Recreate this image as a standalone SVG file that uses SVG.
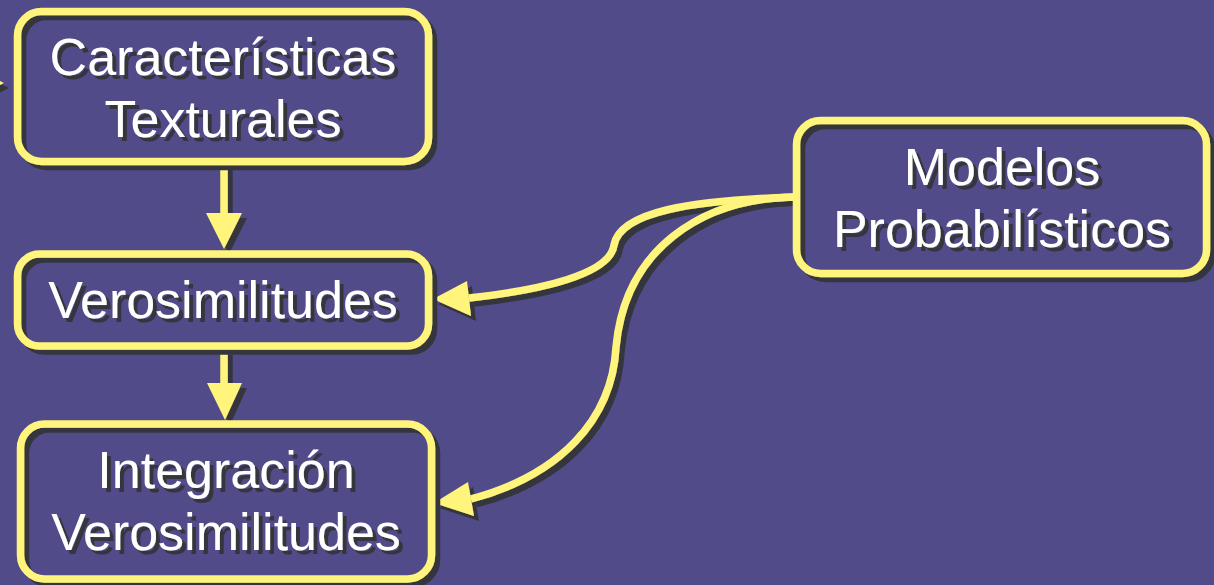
<svg xmlns="http://www.w3.org/2000/svg" width="1214" height="585" viewBox="0 0 1214 585">
  <style>
    .box { fill: none; stroke: #FFF57C; stroke-width: 7.5; }
    .lbl { fill: #FFFFFF; font-family: "Liberation Sans", Arial, sans-serif; font-size: 52px; text-anchor: middle; }
    .edge { fill: none; stroke: #FFF57C; stroke-width: 7.5; }
    .head { fill: #FFF57C; stroke: none; }
  </style>
  <defs>
    <filter id="sh" filterUnits="userSpaceOnUse" x="0" y="0" width="1214" height="585">
      <feOffset in="SourceAlpha" dx="5" dy="5" result="o"/>
      <feFlood flood-color="#36353E"/>
      <feComposite in2="o" operator="in" result="s"/>
      <feMerge><feMergeNode in="s"/><feMergeNode in="SourceGraphic"/></feMerge>
    </filter>
    <filter id="tsh" filterUnits="userSpaceOnUse" x="0" y="0" width="1214" height="585">
      <feOffset in="SourceAlpha" dx="3.5" dy="3.5" result="o"/>
      <feFlood flood-color="#36353E"/>
      <feComposite in2="o" operator="in" result="s"/>
      <feMerge><feMergeNode in="s"/><feMergeNode in="SourceGraphic"/></feMerge>
    </filter>
  </defs>
  <rect width="1214" height="585" fill="#524B8A"/>

  <g id="connectors" filter="url(#sh)">
    <polygon class="head" points="4,83 -33,65 -33,101"/>
    <line class="edge" x1="224" y1="165" x2="224" y2="214"/>
    <polygon class="head" points="206,213 242,213 224,249"/>
    <line class="edge" x1="224" y1="350" x2="224" y2="384"/>
    <polygon class="head" points="207,383 242,383 225,420"/>
    <path class="edge" d="M796,197 C690,200 620,212 614,245 C610,275 540,290 469,298"/>
    <polygon class="head" points="433,299 467,281 471,316"/>
    <path class="edge" d="M796,197 C700,198 625,250 616,347 C612,420 560,475 471,499"/>
    <polygon class="head" points="434,503 468,482 474,516"/>
  </g>

  <g id="caracteristicas">
    <rect class="box" x="17.5" y="11.5" width="411" height="150" rx="24" filter="url(#sh)"/>
    <g filter="url(#tsh)">
      <text class="lbl" x="223" y="75">Características</text>
      <text class="lbl" x="223" y="137">Texturales</text>
    </g>
  </g>

  <g id="verosimilitudes">
    <rect class="box" x="17.5" y="254" width="411" height="92" rx="22" filter="url(#sh)"/>
    <text class="lbl" x="223" y="318" filter="url(#tsh)">Verosimilitudes</text>
  </g>

  <g id="integracion">
    <rect class="box" x="20.5" y="424" width="411" height="155" rx="24" filter="url(#sh)"/>
    <g filter="url(#tsh)">
      <text class="lbl" x="226" y="488">Integración</text>
      <text class="lbl" x="226" y="550">Verosimilitudes</text>
    </g>
  </g>

  <g id="modelos">
    <rect class="box" x="796.5" y="120.5" width="410" height="153" rx="24" filter="url(#sh)"/>
    <g filter="url(#tsh)">
      <text class="lbl" x="1002" y="185">Modelos</text>
      <text class="lbl" x="1002" y="247">Probabilísticos</text>
    </g>
  </g>
</svg>
